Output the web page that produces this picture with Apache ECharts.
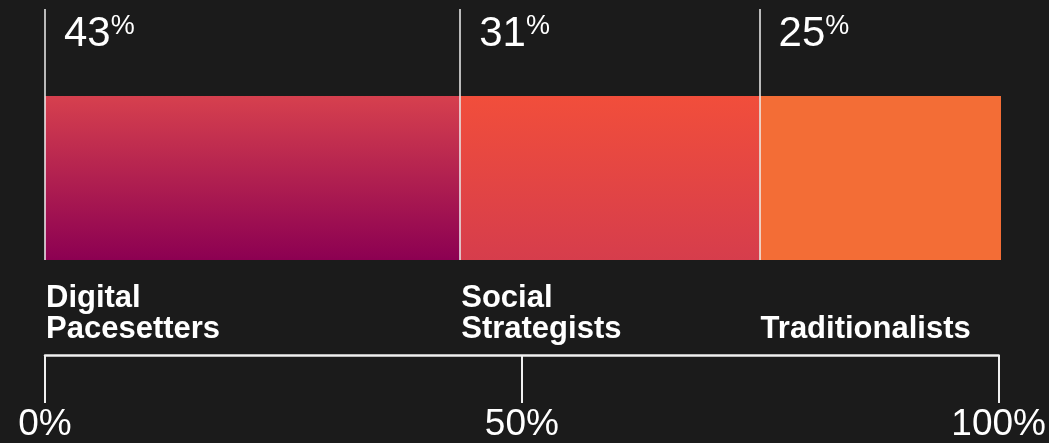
<!DOCTYPE html>
<html>
<head>
<meta charset="utf-8">
<style>
  html, body { margin: 0; padding: 0; background: #1b1b1b; }
  #chart { width: 1049px; height: 443px; }
</style>
<script src="https://cdn.jsdelivr.net/npm/echarts@6/dist/echarts.min.js"></script>
</head>
<body>
<div id="chart"></div>
<script>
// Segment names, shares (percent) and the scale ticks below the bar
const categories = ['Digital\nPacesetters', 'Social\nStrategists', 'Traditionalists'];
const shares = [43, 31, 25];
const scaleTicks = [0, 50, 100];

// Segment fills: top colour, bottom colour
const segmentTop = ['#d6404e', '#f14e3b', '#f36d36'];
const segmentBottom = ['#8c0052', '#d63d4c', '#f36d36'];

const FONT = 'Arial';
const total = shares.reduce((a, b) => a + b, 0);
const starts = shares.map((_, i) => shares.slice(0, i).reduce((a, b) => a + b, 0));

const chart = echarts.init(document.getElementById('chart'), null, { renderer: 'canvas' });

const barSeries = shares.map((v, i) => ({
  type: 'bar',
  name: categories[i],
  xAxisIndex: 0,
  yAxisIndex: 0,
  stack: 'share',
  barWidth: '100%',
  data: [v],
  itemStyle: {
    color: new echarts.graphic.LinearGradient(0, 0, 0, 1, [
      { offset: 0, color: segmentTop[i] },
      { offset: 1, color: segmentBottom[i] }
    ])
  },
  label: {
    show: true,
    formatter: categories[i],
    position: ['0%', '100%'],
    offset: [1, 85],
    align: 'left',
    verticalAlign: 'bottom',
    color: '#ffffff',
    fontFamily: FONT,
    fontWeight: 'bold',
    fontSize: 31,
    lineHeight: 31
  },
  silent: true
}));

const option = {
  backgroundColor: '#1b1b1b',
  animation: false,
  grid: [
    { left: 45, width: 956, top: 96, height: 164 },   // bar
    { left: 45, width: 956, top: 9, height: 251 },    // dividers + value labels
    { left: 45, width: 956, top: 300, height: 57 }    // percent scale
  ],
  xAxis: [
    { gridIndex: 0, type: 'value', min: 0, max: total, show: false },
    { gridIndex: 1, type: 'value', min: 0, max: total, show: false },
    {
      gridIndex: 2, type: 'value', min: 0, max: 100, interval: 50,
      position: 'bottom',
      splitLine: { show: false },
      axisLine: { show: true, lineStyle: { color: '#f0f0f0', width: 2.5 } },
      axisTick: { show: true, inside: false, length: 48, lineStyle: { color: '#f0f0f0', width: 2 } },
      axisLabel: {
        show: true,
        margin: 51,
        color: '#ffffff',
        fontFamily: FONT,
        fontSize: 37,
        verticalAlign: 'top',
        formatter: (v) => scaleTicks.includes(v) ? v + '%' : ''
      }
    }
  ],
  yAxis: [
    { gridIndex: 0, type: 'category', data: ['share'], show: false },
    { gridIndex: 1, type: 'value', min: 0, max: 1, show: false },
    { gridIndex: 2, type: 'value', min: 0, max: 1, show: false }
  ],
  series: [
    ...barSeries,
    {
      type: 'scatter',
      xAxisIndex: 1,
      yAxisIndex: 1,
      symbolSize: 0,
      silent: true,
      itemStyle: { opacity: 1 },
      data: starts.map((s, i) => ({ value: [s, 1], share: shares[i] })),
      label: {
        show: true,
        opacity: 1,
        position: [19, 4],
        align: 'left',
        verticalAlign: 'top',
        formatter: (p) => '{n|' + p.data.share + '}{p|%}',
        rich: {
          n: { fontFamily: FONT, fontSize: 42, lineHeight: 42, color: '#ffffff' },
          p: { fontFamily: FONT, fontSize: 27, lineHeight: 27, color: '#ffffff', verticalAlign: 'top' }
        }
      },
      markLine: {
        silent: true,
        symbol: ['none', 'none'],
        label: { show: false },
        lineStyle: { color: '#f0f0f0', width: 1.5, type: 'solid', opacity: 1 },
        data: starts.map((s) => ({ xAxis: s }))
      }
    }
  ]
};

chart.setOption(option);
</script>
</body>
</html>
